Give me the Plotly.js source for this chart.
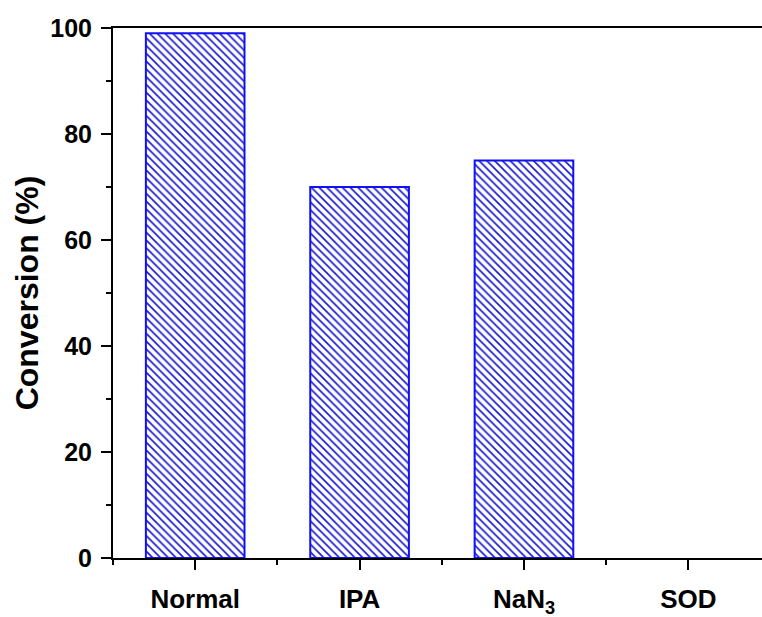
<!DOCTYPE html>
<html>
<head>
<meta charset="utf-8">
<script src="https://cdn.plot.ly/plotly-3.0.1.min.js"></script>
<style>html,body{margin:0;padding:0;background:#fff;}#chart{width:762px;height:617px;}</style>
</head>
<body>
<div id="chart"></div>
<script>
const categories = ["Normal", "IPA", "NaN<sub>3</sub>", "SOD"];
const positions = [1, 2, 3, 4];
const conversion = [99, 70, 75, 0];

const font = {family: "Liberation Sans, Arial, sans-serif", color: "#000", weight: "bold"};

const trace = {
  type: "bar",
  x: positions,
  y: conversion,
  width: 0.6,
  marker: {
    color: "#ffffff",
    line: {color: "#1010f5", width: conversion.map(v => v > 0 ? 2 : 0)},
    pattern: {shape: "\\", fgcolor: "#1a1ad0", bgcolor: "#ffffff", size: 5.5, solidity: 0.3}
  },
  hoverinfo: "x+y"
};

const layout = {
  width: 762, height: 617,
  margin: {l: 113, r: 0, t: 28, b: 59},
  paper_bgcolor: "#fff", plot_bgcolor: "#fff",
  showlegend: false,
  xaxis: {
    range: [0.5, 4.448],
    tickmode: "array", tickvals: positions, ticktext: categories,
    ticks: "outside", ticklen: 10, tickwidth: 2, tickcolor: "#000",
    ticklabelstandoff: 7,
    minor: {dtick: 1, tick0: 0.5, ticks: "outside", ticklen: 5, tickwidth: 2, tickcolor: "#000", showgrid: false},
    showline: true, linecolor: "#000", linewidth: 2, mirror: true,
    showgrid: false, zeroline: false,
    tickfont: Object.assign({size: 26}, font)
  },
  yaxis: {
    range: [0, 100],
    dtick: 20, tick0: 0,
    ticks: "outside", ticklen: 10, tickwidth: 2, tickcolor: "#000",
    ticklabelstandoff: 4,
    minor: {dtick: 10, ticks: "outside", ticklen: 5, tickwidth: 2, tickcolor: "#000", showgrid: false},
    showline: true, linecolor: "#000", linewidth: 2,
    showgrid: false, zeroline: false,
    tickfont: Object.assign({size: 25}, font),
    title: {text: "Conversion (%)", font: Object.assign({size: 32}, font), standoff: 2}
  }
};

Plotly.newPlot("chart", [trace], layout, {displayModeBar: false, staticPlot: true});
</script>
</body>
</html>
